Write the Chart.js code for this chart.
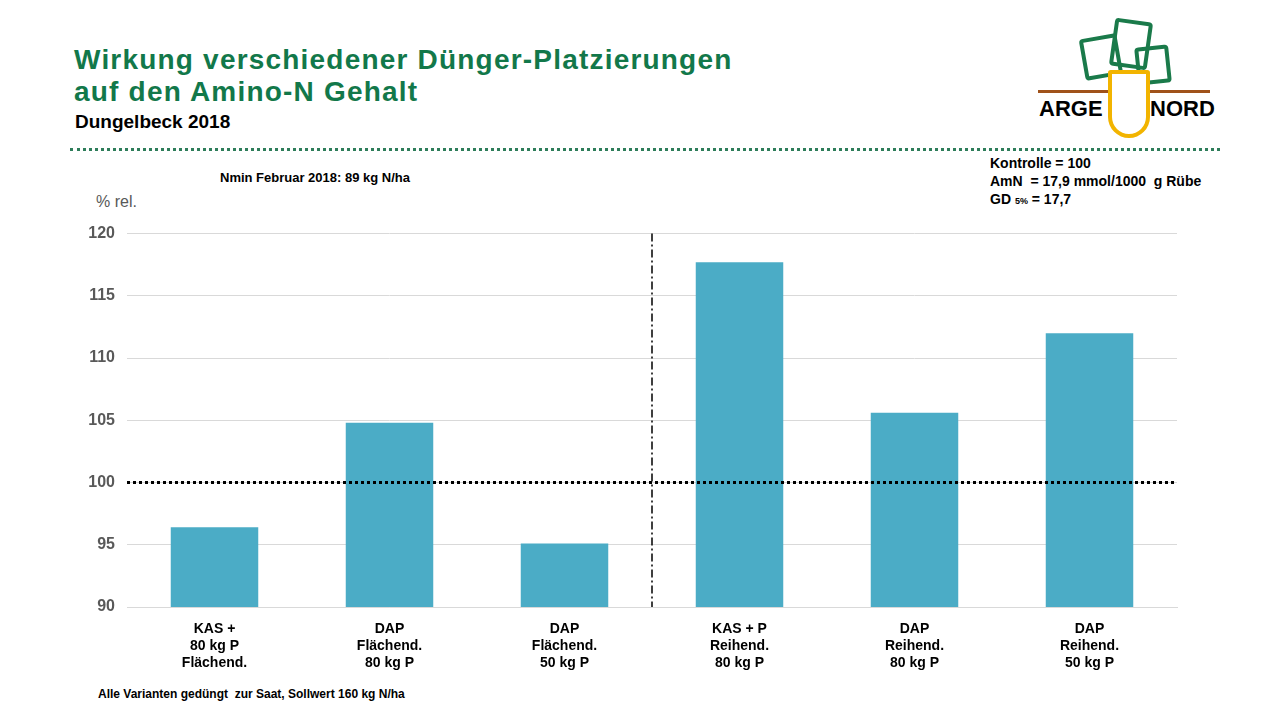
<!DOCTYPE html>
<html><head><meta charset="utf-8">
<script src="https://cdn.jsdelivr.net/npm/chart.js@4"></script>
<style>
body{margin:0;width:1280px;height:720px;background:#fff;font-family:Arial,"Liberation Sans",sans-serif;position:relative;overflow:hidden}
.t{position:absolute;white-space:nowrap}
</style></head><body>
<div class="t" style="left:74px;top:44px;font-size:28px;letter-spacing:1.2px;font-weight:bold;color:#12784a;line-height:32px">Wirkung verschiedener Dünger-Platzierungen<br>auf den Amino-N Gehalt</div>
<div class="t" style="left:75px;top:111px;font-size:19px;font-weight:bold">Dungelbeck 2018</div>
<div class="t" style="left:70px;top:148px;width:1150px;border-top:3px dotted #2e7d5a"></div>
<div class="t" style="left:220px;top:170px;font-size:13px;font-weight:bold">Nmin Februar 2018: 89 kg N/ha</div>
<div class="t" style="left:96px;top:193px;font-size:16px;color:#595959">% rel.</div>
<div class="t" style="left:990px;top:154px;font-size:14px;font-weight:bold;line-height:18px">Kontrolle = 100<br>AmN&nbsp; = 17,9 mmol/1000&nbsp; g Rübe<br>GD <span style="font-size:9px">5%</span> = 17,7</div>
<div class="t" style="left:98px;top:687px;font-size:12px;font-weight:bold">Alle Varianten gedüngt&nbsp; zur Saat, Sollwert 160 kg N/ha</div>
<div class="t" style="left:1038px;top:90px;width:172px;border-top:3px solid #a0521a"></div>
<div class="t" style="left:1082px;top:36px;width:30px;height:34px;border:4px solid #1a7a4a;border-radius:4px;transform:rotate(-10deg)"></div>
<div class="t" style="left:1112px;top:20px;width:30px;height:40px;border:4px solid #1a7a4a;border-radius:4px;transform:rotate(8deg)"></div>
<div class="t" style="left:1136px;top:46px;width:26px;height:30px;border:4px solid #1a7a4a;border-radius:4px;transform:rotate(-6deg)"></div>
<div class="t" style="left:1108px;top:70px;width:34px;height:60px;border:4px solid #f2b400;border-radius:4px 4px 30px 30px;background:#fff"></div>
<div class="t" style="left:1039px;top:96px;font-size:22px;font-weight:bold">ARGE</div>
<div class="t" style="left:1150px;top:96px;font-size:22px;font-weight:bold">NORD</div>
<div style="position:absolute;left:0;top:212px;width:1280px;height:468px"><canvas id="c"></canvas></div>
<script>
const categories=[["KAS +","80 kg P","Flächend."],["DAP","Flächend.","80 kg P"],["DAP","Flächend.","50 kg P"],["KAS + P","Reihend.","80 kg P"],["DAP","Reihend.","80 kg P"],["DAP","Reihend.","50 kg P"]];
const values=[96.4,104.8,95.1,117.7,105.6,112.0];
const yTicks=[90,95,100,105,110,115,120];
const control=100;
const linesPlugin={id:'lines',afterDatasetsDraw(ch){
  const {ctx,chartArea:a,scales:{x,y}}=ch;
  ctx.save();
  ctx.strokeStyle='#000';ctx.lineWidth=3;ctx.setLineDash([3,3]);
  const yy=y.getPixelForValue(control);
  ctx.beginPath();ctx.moveTo(a.left,yy);ctx.lineTo(a.right,yy);ctx.stroke();
  const xx=(x.getPixelForValue(2)+x.getPixelForValue(3))/2;
  ctx.lineWidth=1.5;ctx.setLineDash([8,3,2,3]);
  ctx.beginPath();ctx.moveTo(xx,a.top);ctx.lineTo(xx,a.bottom);ctx.stroke();
  ctx.restore();}};
new Chart(document.getElementById('c'),{type:'bar',
 data:{labels:categories,datasets:[{data:values,backgroundColor:'#4bacc6',barPercentage:0.5,categoryPercentage:1}]},
 options:{responsive:true,maintainAspectRatio:false,animation:false,
  layout:{padding:{top:5,right:103}},
  plugins:{legend:{display:false},tooltip:{enabled:false}},
  scales:{
   x:{grid:{display:false},border:{color:'#d9d9d9'},ticks:{color:'#000',font:{size:14,weight:'bold'},padding:6},afterFit(s){s.height=73;}},
   y:{min:90,max:120,afterBuildTicks(s){s.ticks=yTicks.map(v=>({value:v}));},
      grid:{color:'#d9d9d9',drawTicks:false},border:{display:false},
      ticks:{color:'#595959',font:{size:16,weight:'bold'},padding:12},afterFit(s){s.width=127;}}}},
 plugins:[linesPlugin]});
</script>
</body></html>
